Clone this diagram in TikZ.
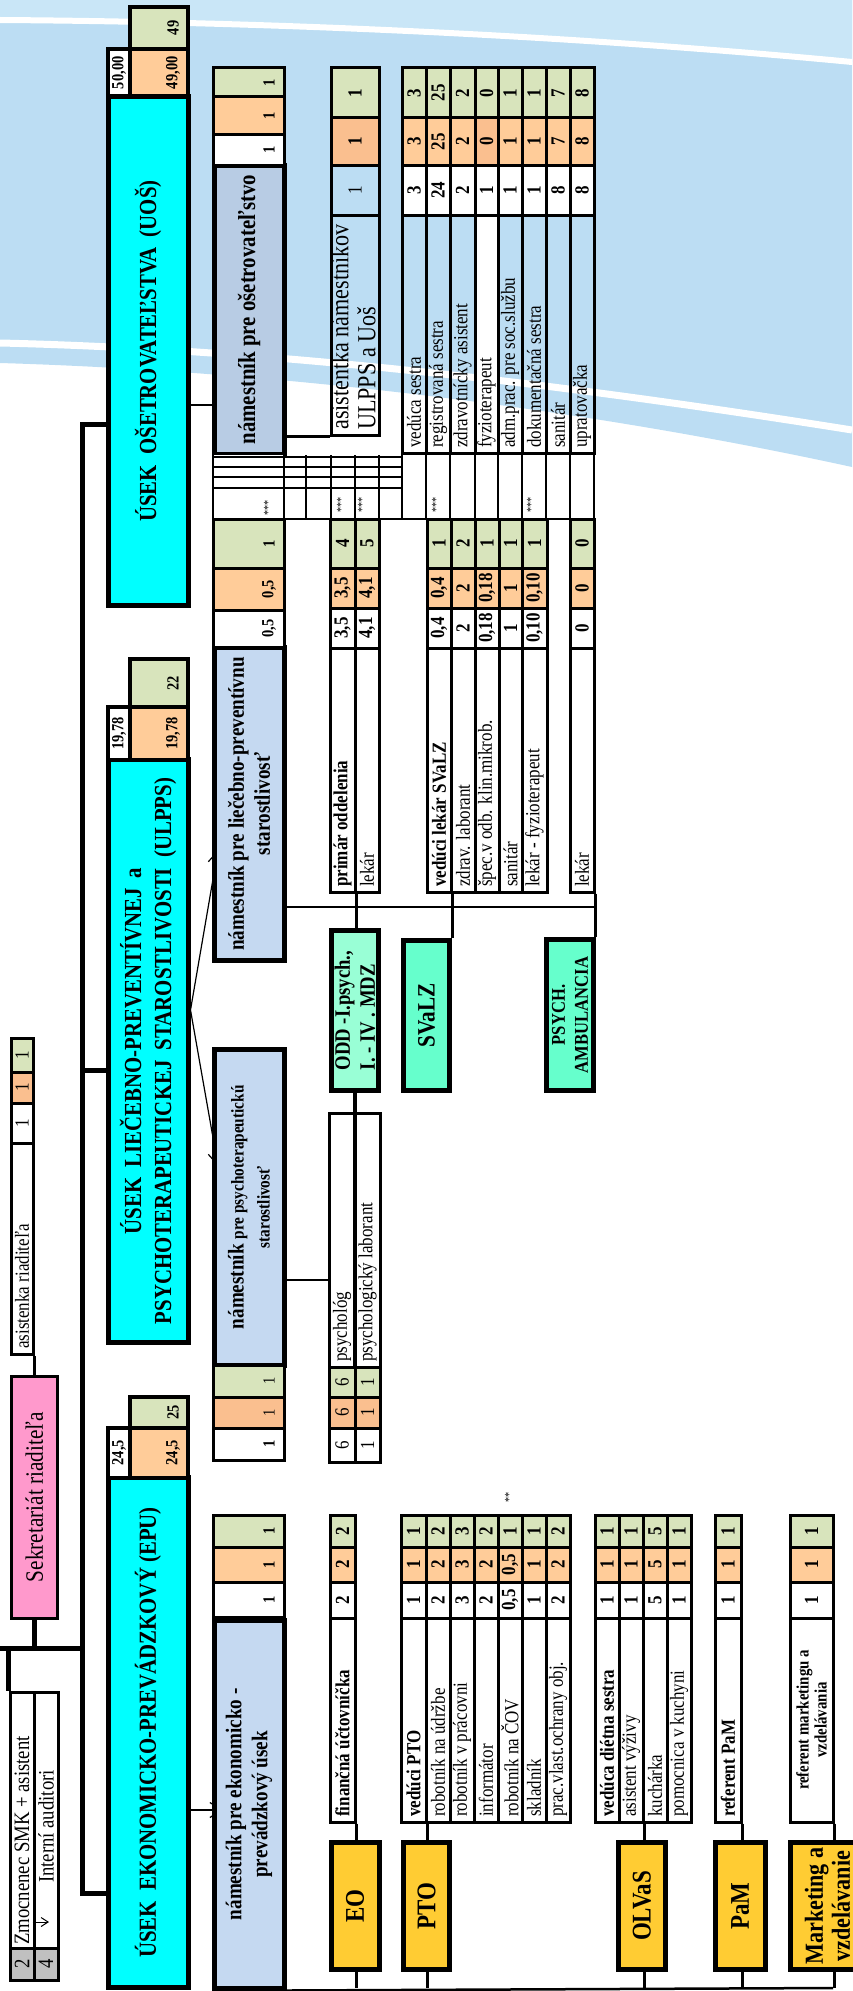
\documentclass[tikz,border=0pt]{standalone}
\usepackage{fontspec}
\setmainfont{Liberation Serif}[FakeStretch=0.85]
\usetikzlibrary{arrows.meta}

\pgfdeclarelayer{sky}
\pgfdeclarelayer{lines}
\pgfsetlayers{sky,lines,main}

\definecolor{cyn}{HTML}{00FFFF}
\definecolor{nam}{HTML}{C5D9F1}
\definecolor{nam2}{HTML}{B8CCE4}
\definecolor{grn}{HTML}{D8E4BC}
\definecolor{orng}{HTML}{FFCC99}
\definecolor{orng2}{HTML}{FABF8F}
\definecolor{pnk}{HTML}{FF99CC}
\definecolor{ylw}{HTML}{FFCC33}
\definecolor{mint}{HTML}{66FFCC}
\definecolor{mint2}{HTML}{99FFD6}
\definecolor{gry}{HTML}{C0C0C0}
\definecolor{sky}{HTML}{BCDDF3}
\definecolor{sky2}{HTML}{C9E6F7}

\newcommand{\fsz}[2]{\fontsize{#1}{#2}\selectfont}
% cell: [style]{name}{x1}{x2}{y1}{y2}{text}
\newcommand{\cel}[7][]{%
  \node[cel,#1,minimum height={#4-#3},minimum width={#6-#5}] (#2) at ({(#3+#4)/2},{(#5+#6)/2}) {#7};}
% text cell, text starts at the lower end
\newcommand{\tcel}[7][]{%
  \cel[#1]{#2}{#3}{#4}{#5}{#6}{}%
  \node[lbl,anchor=west] (#2t) at ({(#3+#4)/2},{#6-5}) {#7};}
% head cell, number near the right side
\newcommand{\hcel}[7][]{%
  \cel[#1]{#2}{#3}{#4}{#5}{#6}{}%
  \node[lbl,font=\fsz{17}{17}\bfseries] (#2t) at ({#4-15},{(#5+#6)/2}) {#7};}
% table row: [text style]{name}{x1}{x2}{text}{white}{orange}{green}
\def\orc{orng}
\newcommand{\trow}[8][]{%
  \tcel[#1]{#2}{#3}{#4}{\yd}{\ye}{#5}%
  \cel[fill=white]{#2w}{#3}{#4}{\yc}{\yd}{\bfseries #6}%
  \cel[fill=\orc]{#2o}{#3}{#4}{\yb}{\yc}{\bfseries #7}%
  \cel[fill=grn]{#2g}{#3}{#4}{\ya}{\yb}{\bfseries #8}}

\begin{document}
\begin{tikzpicture}[x=1pt,y=-1pt,
    cel/.style={draw, line width=3pt, rotate=90, inner sep=0pt, font=\fsz{20}{22}},
    lbl/.style={rotate=90, inner sep=0pt, font=\fsz{20}{22}},
    box/.style={line width=5pt, align=center},
    ttl/.style={box, fill=cyn, font=\fsz{24.5}{30}\bfseries},
    nambox/.style={box, fill=nam, font=\fsz{22.5}{26}\bfseries},
    unitbox/.style={box, fill=ylw, font=\fsz{27}{27}\bfseries},
    mintbox/.style={box, fill=mint, font=\fsz{22}{25}\bfseries},
    trunk/.style={line width=5pt},
    bus/.style={line width=2.5pt},
    stub/.style={line width=3pt},
    conn/.style={line width=2.5pt},
    arr/.style={line width=1.2pt, -{Straight Barb[length=12pt,width=15pt]}},
    gridln/.style={line width=2.5pt},
    stars/.style={lbl, font=\fsz{12}{12}},
  ]
\useasboundingbox (0,0) rectangle (852,1991);

% sky in the background
\begin{pgfonlayer}{sky}
  \fill[sky] (0,0) -- (852,0) -- (852,467) .. controls (600,412) and (300,372) .. (0,363) -- cycle;
  \fill[sky2] (0,0) -- (852,0) -- (852,62) .. controls (600,38) and (300,22) .. (0,20) -- cycle;
  \draw[white,line width=6pt] (0,20) .. controls (300,22) and (600,38) .. (852,62);
  \draw[white,line width=7pt] (0,343) .. controls (300,350) and (600,390) .. (852,430);
\end{pgfonlayer}

% ---- director
\cel[line width=3pt,fill=pnk,font=\fsz{25}{25}]{sekr}{11.5}{57}{1376.5}{1618}{Sekretariát riaditeľa}
\tcel{asr}{11}{33}{1143}{1354}{asistenka riaditeľa}
\cel[fill=white]{asrw}{11}{33}{1103}{1143}{1}
\cel[fill=orng2]{asro}{11}{33}{1072}{1103}{1}
\cel[fill=grn]{asrg}{11}{33}{1038}{1072}{1}
\tcel[font=\fsz{22}{22}]{zm1}{10}{34}{1692}{1948}{}
\node[lbl,anchor=west,font=\fsz{22}{22}] (zm1l) at (22,1945) {Zmocnenec SMK + asistent};
\cel[fill=gry,font=\fsz{22}{22}]{zm1n}{10}{34}{1948}{1980}{2}
\cel{zm2}{34}{58}{1692}{1948}{}
\node[lbl,anchor=west,font=\fsz{22}{22}] (zm2l) at (46,1883) {Interní auditori};
\cel[fill=gry,font=\fsz{22}{22}]{zm2n}{34}{58}{1948}{1980}{4}

% ---- UOS
\cel[ttl]{uos}{108}{188}{96.5}{605.5}{ÚSEK\ \ OŠETROVATEĽSTVA\ \ (UOŠ)}
\cel[line width=4pt,fill=white,font=\fsz{17}{17}\bfseries]{uosw}{108}{130}{49}{96.5}{50,00}
\hcel[line width=4pt,fill=orng]{uoso}{130}{188}{49}{96.5}{49,00}
\hcel[line width=4pt,fill=grn]{uosg}{130}{188}{7}{49}{49}
\cel[nambox,fill=nam2,font=\fsz{24.5}{26}\bfseries]{nos}{214}{284}{165.5}{454}{námestník pre ošetrovateľstvo}
\hcel[fill=white]{nosw}{213}{284}{135}{165.5}{1}
\hcel[fill=orng]{noso}{213}{284}{97}{135}{1}
\hcel[fill=grn]{nosg}{213}{284}{68}{97}{1}
% asistentka namestnikov
\cel{asn}{331}{379}{215}{435}{}
\node[lbl,anchor=west,align=left,font=\fsz{26}{27}] (asnt) at (353,430) {asistentka námestníkov\\ULPPS a Uoš};
\cel{asnw}{331}{379}{165}{215}{1}
\cel[fill=orng2]{asno}{331}{379}{118}{165}{\bfseries 1}
\cel[fill=grn]{asng}{331}{379}{68}{118}{\bfseries 1}
% nurses
\def\ya{68}\def\yb{118}\def\yc{165}\def\yd{215}\def\ye{453}
\trow{ved}{402}{426}{vedúca sestra}{3}{3}{3}
\trow{reg}{426}{450}{registrovaná sestra}{24}{25}{25}
\trow{zas}{450}{475}{zdravotnícky asistent}{2}{2}{2}
\def\orc{orng2}
\trow[fill=white]{fyz}{475}{498}{fyzioterapeut}{1}{0}{0}
\def\orc{orng}
\trow{adm}{498}{522}{adm.prac. pre soc.službu}{1}{1}{1}
\trow{dok}{522}{546}{dokumentačná sestra}{1}{1}{1}
\trow{san}{546}{570}{sanitár}{8}{7}{7}
\trow{upr}{570}{594}{upratovačka}{8}{8}{8}

% thin hidden columns
\fill[white] (213,455) rectangle (284,519);
\foreach \gx in {213,284,306,331,355,379,402,426,450,475,498,522,546,570,594}
  \draw[gridln] (\gx,455) -- (\gx,519);
\foreach \gy in {457,467,477,488}
  \draw[gridln] (213,\gy) -- (402,\gy);
\draw[gridln] (213,519) -- (594,519);
\foreach \sx/\sy in {268/508,341/505,362/505,436/505,531/505}
  \node[stars] (st\sx) at (\sx,\sy) {***};

% ---- ULPPS
\cel[ttl]{ulp}{108}{188}{759.5}{1342.5}{ÚSEK\ \ LIEČEBNO-PREVENTÍVNEJ\ \ a\\PSYCHOTERAPEUTICKEJ\ \ STAROSTLIVOSTI\ \ (ULPPS)}
\cel[line width=4pt,fill=white,font=\fsz{17}{17}\bfseries]{ulpw}{108}{130}{707}{759.5}{19,78}
\hcel[line width=4pt,fill=orng]{ulpo}{130}{188}{707}{759.5}{19,78}
\hcel[line width=4pt,fill=grn]{ulpg}{130}{188}{659}{707}{22}
\cel[nambox]{nlp}{214}{284}{647.5}{960.5}{námestník pre liečebno-preventívnu\\starostlivosť}
\hcel[fill=white]{nlpw}{213}{284}{610}{647.5}{0,5}
\hcel[fill=orng]{nlpo}{213}{284}{568}{610}{0,5}
\hcel[fill=grn]{nlpg}{213}{284}{519}{568}{1}
\cel[nambox]{nps}{214}{284}{1049.5}{1365}{{\fsz{22.5}{22}námestník} {\fsz{18}{22}pre psychoterapeutickú}\\{\fsz{18}{22}starostlivosť}}
\hcel[fill=grn]{npsg}{213}{284}{1365}{1397}{\mdseries 1}
\hcel[fill=orng2]{npso}{213}{284}{1397}{1428}{\mdseries 1}
\hcel[fill=white]{npsw}{213}{284}{1428}{1460}{1}
% departments
\def\ya{519}\def\yb{568}\def\yc{608}\def\yd{648}\def\ye{892}
\trow{pri}{330}{355}{\bfseries primár oddelenia}{3,5}{3,5}{4}
\trow{lek}{355}{379}{lekár}{4,1}{4,1}{5}
\trow{vls}{427}{451}{\bfseries vedúci lekár SVaLZ}{0,4}{0,4}{1}
\trow{zla}{451}{475}{zdrav. laborant}{2}{2}{2}
\trow{spe}{475}{499}{špec.v odb. klin.mikrob.}{0,18}{0,18}{1}
\trow{sal}{499}{522}{sanitár}{1}{1}{1}
\trow{lfy}{522}{547}{lekár - fyzioterapeut}{0,10}{0,10}{1}
\trow{lps}{570}{594}{lekár}{0}{0}{0}
\cel[mintbox,fill=mint2,align=left]{odd}{331.5}{378.5}{930.5}{1090.5}{ODD -I.psych.,\\I. - IV . MDZ}
\cel[mintbox,font=\fsz{25}{25}\bfseries]{sva}{403.5}{449.5}{940.5}{1090.5}{SVaLZ}
\cel[mintbox,font=\fsz{19.5}{23}\bfseries]{psa}{546.5}{593.5}{939.5}{1090.5}{PSYCH.\\AMBULANCIA}
% psychologists
\tcel{psy}{329}{355}{1113}{1367}{psychológ}
\cel[fill=grn]{psyg}{329}{355}{1367}{1397}{6}
\cel[fill=orng2]{psyo}{329}{355}{1397}{1428}{6}
\cel[fill=white]{psyw}{329}{355}{1428}{1462}{6}
\tcel{plb}{355}{380}{1113}{1367}{psychologický laborant}
\cel[fill=grn]{plbg}{355}{380}{1367}{1397}{1}
\cel[fill=orng2]{plbo}{355}{380}{1397}{1428}{1}
\cel[fill=white]{plbw}{355}{380}{1428}{1462}{1}

% ---- EPU
\cel[ttl]{epu}{108}{188}{1477.5}{1987.5}{ÚSEK\ \ EKONOMICKO-PREVÁDZKOVÝ (EPU)}
\cel[line width=4pt,fill=white,font=\fsz{17}{17}\bfseries]{epuw}{108}{130}{1428}{1477.5}{24,5}
\hcel[line width=4pt,fill=orng]{epuo}{130}{188}{1428}{1477.5}{24,5}
\hcel[line width=4pt,fill=grn]{epug}{130}{188}{1397}{1428}{25}
\cel[nambox]{nep}{214}{284}{1620.5}{1988}{námestník pre ekonomicko -\\prevádzkový úsek}
\hcel[fill=white]{nepw}{213}{284}{1582}{1617}{1}
\hcel[fill=orng]{nepo}{213}{284}{1547}{1582}{1}
\hcel[fill=grn]{nepg}{213}{284}{1515}{1547}{1}
\def\ya{1515}\def\yb{1547}\def\yc{1582}\def\yd{1618}\def\ye{1822}
\trow{fin}{330}{355}{\bfseries finančná účtovníčka}{2}{2}{2}
\trow{vpt}{401}{426}{\bfseries vedúci PTO}{1}{1}{1}
\trow{rud}{426}{450}{robotník na údržbe}{2}{2}{2}
\trow{rpr}{450}{474}{robotník v prácovni}{3}{3}{3}
\trow{inf}{474}{498}{informátor}{2}{2}{2}
\trow{rco}{498}{522}{robotník na ČOV}{0,5}{0,5}{1}
\trow{skl}{522}{546}{skladník}{1}{1}{1}
\trow{pvo}{546}{570}{prac.vlast.ochrany obj.}{2}{2}{2}
\node[stars] (st6) at (509,1497) {**};
\trow{vds}{595}{619}{\bfseries vedúca diétna sestra}{1}{1}{1}
\trow{avy}{619}{643}{asistent výživy}{1}{1}{1}
\trow{kuc}{643}{667}{kuchárka}{5}{5}{5}
\trow{pok}{667}{691}{pomocnica v kuchyni}{1}{1}{1}
\trow{rpm}{715}{741}{\bfseries referent PaM}{1}{1}{1}
\cel[align=center,font=\fsz{17.5}{18}\bfseries]{rmk}{790}{833}{\yd}{\ye}{referent marketingu a\\vzdelávania}
\cel[fill=white]{rmkw}{790}{833}{\yc}{\yd}{\bfseries 1}
\cel[fill=orng]{rmko}{790}{833}{\yb}{\yc}{\bfseries 1}
\cel[fill=grn]{rmkg}{790}{833}{\ya}{\yb}{\bfseries 1}
\cel[unitbox]{eo}{331}{379}{1842.5}{1969.5}{EO}
\cel[unitbox]{pto}{403.5}{449.5}{1842.5}{1969.5}{PTO}
\cel[unitbox]{olv}{618.5}{665.5}{1842.5}{1969.5}{OLVaS}
\cel[unitbox]{pam}{715.5}{765}{1842.5}{1969.5}{PaM}
\cel[unitbox,font=\fsz{26}{27}\bfseries]{mkt}{790}{865}{1842.5}{1969.5}{Marketing a\\vzdelávanie}

% ---- connectors
\begin{pgfonlayer}{lines}
  \coordinate (t1) at (82.5,424);
  \coordinate (t2) at (82.5,1893);
  \coordinate (t3) at (82.5,1070);
  \coordinate (t4) at (82.5,1648);
  \coordinate (t5) at (0,1648);
  \draw[trunk] (uos.north |- t1) -- (t1) -- (t2) -- (epu.north |- t2);
  \draw[trunk] (ulp.north |- t3) -- (t3);
  \draw[trunk] (sekr.west) -- (sekr.west |- t4);
  \draw[trunk] (t5) -- (t4);
  \draw[trunk] (zm1.north east |- t4) -- (zm1.north east);
  \draw[conn] (sekr.east) -- (sekr.east |- asr.west);
  % arrows to the deputies
  \coordinate (a1) at (232,405);
  \coordinate (a2) at (218,850);
  \coordinate (a3) at (218,1166);
  \coordinate (a4) at (223,1810);
  \coordinate (a5) at (49,1922);
  \draw[arr] (uos.south |- a1) -- (a1);
  \draw[arr] (ulp.south |- 0,1010) -- (a2);
  \draw[arr] (ulp.south |- 0,1010) -- (a3);
  \draw[arr] (epu.south |- a4) -- (a4);
  \draw[line width=1pt,-{Straight Barb[length=7pt,width=9pt]}] ([xshift=-3pt]zm1.south |- a5) -- (a5);
  \draw[conn] (nos.south |- asn.north west) -- (asn.north west);
  \draw[conn] (nps.south |- 0,1280) -- (psy.north |- 0,1280);
  % ULPPS bus
  \coordinate (b1) at (594,907);
  \draw[bus] (nlp.south |- b1) -- (b1);
  \draw[stub] (pri.south west) -- (pri.south west |- odd.east);
  \draw[stub] (vls.south west) -- (vls.south west |- sva.east);
  \draw[stub] (lps.south west) -- (lps.south west |- psa.east);
  \draw[line width=4.5pt] (odd.west) -- (odd.west |- psyw.west);
  % EPU bus
  \coordinate (b2) at (833,1988);
  \draw[bus] (nep.south west) -- (b2);
  \foreach \r in {fin,vpt,avy,rpm,rmk}
    \draw[stub] (\r.south west) -- (\r.south west |- b2);
\end{pgfonlayer}
\end{tikzpicture}
\end{document}
